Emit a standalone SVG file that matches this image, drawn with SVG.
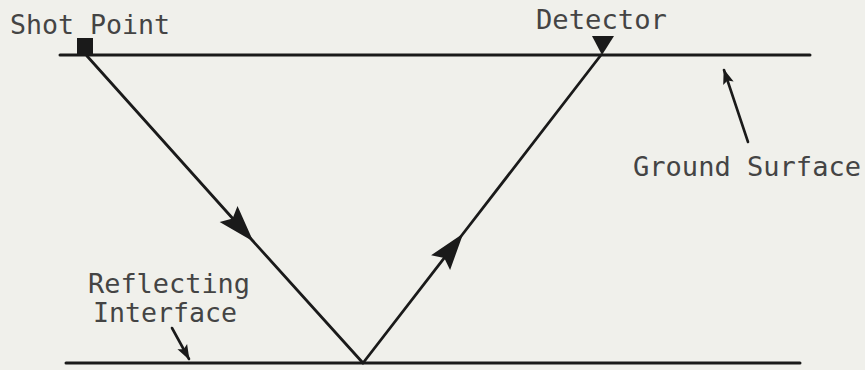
<svg xmlns="http://www.w3.org/2000/svg" width="865" height="370" viewBox="0 0 865 370">
  <style>
    .lbl { font-family: "DejaVu Sans Mono", "Liberation Mono", monospace; font-size: 27px; fill: #444444; }
    .ln { stroke: #1a1a1a; fill: none; stroke-linecap: round; }
    .ray { stroke-width: 2.8; }
    .surf { stroke-width: 3; }
    .ptr { stroke-width: 2.6; }
  </style>
  <defs>
    <marker id="bigArrow" markerUnits="userSpaceOnUse" markerWidth="42" markerHeight="30" viewBox="-38 -14 42 28" refX="0" refY="0" orient="auto">
      <path d="M2,0 L-35,-12 L-29,0 L-35,12 Z" fill="#1a1a1a"/>
    </marker>
    <marker id="smallArrow" markerUnits="userSpaceOnUse" markerWidth="20" markerHeight="16" viewBox="-17 -8 20 16" refX="0" refY="0" orient="auto">
      <path d="M1,0 L-14,-5.5 L-11,0 L-14,5.5 Z" fill="#1a1a1a"/>
    </marker>
  </defs>
  <rect width="865" height="370" fill="#f0f0eb"/>

  <g id="ground-surface">
    <line class="ln surf" x1="60" y1="55" x2="810" y2="55"/>
  </g>
  <g id="reflecting-interface">
    <line class="ln surf" x1="66" y1="363" x2="800" y2="363"/>
  </g>
  <g id="shot-point">
    <rect x="77" y="38" width="16" height="16" fill="#1a1a1a"/>
  </g>
  <g id="detector">
    <polygon points="592,36 614,36 602,55" fill="#1a1a1a"/>
  </g>

  <g id="connectors">
    <path class="ln ray" d="M87,56 L252,240 L363,363" marker-mid="url(#bigArrow)"/>
    <path class="ln ray" d="M363,363 L462,235 L601,55" marker-mid="url(#bigArrow)"/>
    <line class="ln ptr" x1="748" y1="142" x2="724" y2="70" marker-end="url(#smallArrow)"/>
    <line class="ln ptr" x1="172" y1="328" x2="189" y2="359" marker-end="url(#smallArrow)"/>
  </g>

  <g id="labels">
    <text class="lbl" x="10" y="34" textLength="160" lengthAdjust="spacingAndGlyphs">Shot Point</text>
    <text class="lbl" x="536" y="29" textLength="131" lengthAdjust="spacingAndGlyphs">Detector</text>
    <text class="lbl" x="633" y="176" textLength="228" lengthAdjust="spacingAndGlyphs">Ground Surface</text>
    <text class="lbl" x="88" y="293" textLength="162" lengthAdjust="spacingAndGlyphs">Reflecting</text>
    <text class="lbl" x="93" y="322" textLength="144" lengthAdjust="spacingAndGlyphs">Interface</text>
  </g>
</svg>
